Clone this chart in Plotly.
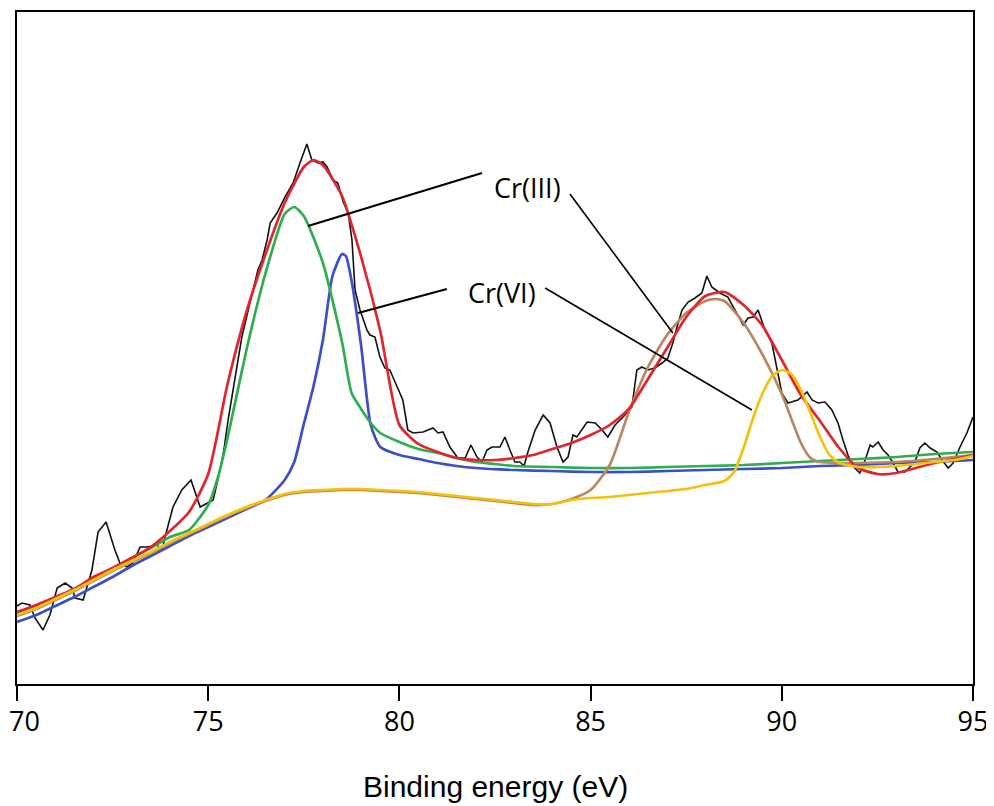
import plotly.graph_objects as go

# ---------------- data (binding energy in eV, intensity in arbitrary units) ----------------
raw_energy = [70.00, 70.13, 70.34, 70.47, 70.68, 70.86, 71.05, 71.26, 71.44, 71.52, 71.73, 71.83,
              71.96, 72.12, 72.33, 72.56, 72.69, 72.88, 73.03, 73.22, 73.40, 73.66, 73.79, 73.92,
              74.08, 74.31, 74.55, 74.79, 75.05, 75.13, 75.31, 75.41, 75.52, 75.78, 75.88, 76.09,
              76.30, 76.41, 76.54, 76.62, 76.80, 77.01, 77.22, 77.40, 77.58, 77.71, 77.87, 78.00,
              78.11, 78.26, 78.39, 78.53, 78.66, 78.76, 78.84, 78.97, 79.15, 79.23, 79.36, 79.49,
              79.62, 79.75, 79.94, 80.09, 80.22, 80.36, 80.62, 80.88, 81.01, 81.14, 81.32, 81.53,
              81.72, 81.87, 82.03, 82.16, 82.29, 82.42, 82.63, 82.76, 82.89, 83.02, 83.15, 83.26,
              83.36, 83.55, 83.76, 83.94, 84.12, 84.28, 84.41, 84.54, 84.64, 84.91, 85.12, 85.30,
              85.45, 85.64, 85.77, 85.85, 86.08, 86.21, 86.34, 86.50, 86.68, 86.87, 87.02, 87.15,
              87.26, 87.39, 87.55, 87.73, 87.91, 88.04, 88.17, 88.38, 88.59, 88.83, 88.99, 89.12,
              89.25, 89.38, 89.56, 89.74, 89.87, 90.00, 90.16, 90.42, 90.66, 90.79, 90.95, 91.13,
              91.31, 91.47, 91.60, 91.73, 91.86, 92.04, 92.18, 92.31, 92.38, 92.52, 92.65, 92.78,
              92.91, 93.04, 93.22, 93.35, 93.48, 93.61, 93.74, 93.88, 94.06, 94.19, 94.35, 94.48,
              94.66, 94.84, 95.00]
raw_counts = [78, 81, 79, 66, 54, 69, 96, 101, 96, 86, 84, 97,
              114, 152, 162, 134, 121, 117, 121, 137, 137, 139, 134, 154,
              177, 194, 204, 177, 182, 184, 214, 234, 264, 327, 347, 381,
              414, 424, 444, 461, 471, 487, 501, 521, 540, 524, 521, 522,
              517, 504, 501, 482, 471, 444, 394, 374, 354, 349, 347, 327,
              316, 314, 297, 284, 254, 251, 252, 256, 251, 252, 237, 226,
              226, 239, 227, 222, 234, 237, 237, 247, 234, 222, 222, 218,
              232, 254, 269, 261, 237, 222, 227, 249, 247, 262, 261, 254,
              247, 259, 264, 267, 277, 314, 317, 314, 316, 321, 326, 341,
              357, 374, 382, 386, 391, 408, 397, 391, 387, 371, 359, 366,
              367, 374, 354, 341, 314, 291, 281, 284, 292, 284, 281, 282,
              274, 261, 244, 229, 218, 211, 224, 239, 237, 242, 234, 229,
              221, 212, 212, 217, 222, 236, 241, 236, 232, 224, 216, 221,
              237, 251, 267]

# fitted envelope
env_energy = [70.0, 70.5, 71.0, 71.5, 72.0, 72.5, 73.0, 73.5, 74.0, 74.5, 75.0, 75.5, 76.0, 76.5,
              77.0, 77.5, 77.75, 78.0, 78.5, 79.0, 79.5, 80.0, 80.5, 81.0, 81.5, 82.0, 82.5,
              83.0, 83.5, 84.0, 84.5, 85.0, 85.5, 86.0, 86.5, 87.0, 87.5, 88.0, 88.5, 89.0,
              89.5, 90.0, 90.5, 91.0, 91.5, 92.0, 92.5, 93.0, 93.5, 94.0, 94.5, 95.0]
env_counts = [72, 79, 87, 95, 107, 116, 126, 137, 153, 172, 210, 299, 372, 430,
              481, 517, 524, 519, 488, 427, 353, 259, 240, 232, 226, 224, 224,
              226, 229, 235, 241, 249, 259, 275, 305, 336, 367, 388, 392, 379,
              358, 324, 289, 263, 236, 216, 210, 211, 216, 221, 225, 229]

# Cr(III) 2p3/2 component (green)
cr3a_energy = [70.0, 71.0, 72.0, 73.0, 73.5, 74.0, 74.5, 75.0, 75.25, 75.5, 76.0, 76.5, 77.0,
               77.25, 77.5, 78.0, 78.5, 78.75, 79.0, 79.25, 79.5, 80.0, 80.5, 81.0, 81.5, 82.0,
               82.5, 83.0, 84.0, 85.0, 86.0, 87.0, 88.0, 89.0, 90.0, 91.0, 92.0, 93.0, 94.0, 95.0]
cr3a_counts = [70, 86, 105, 126, 136, 147, 154, 179, 206, 245, 334, 411, 470,
               477, 468, 421, 342, 291, 275, 261, 251, 242, 235, 231, 226, 222,
               220, 218, 217, 216, 216, 217, 218, 219, 221, 223, 225, 227, 230, 232]

# Cr(VI) 2p3/2 component (blue)
cr6a_energy = [70.0, 70.5, 71.0, 71.5, 72.0, 72.5, 73.0, 73.5, 74.0, 74.5, 75.0, 75.5, 76.0, 76.5,
               77.0, 77.25, 77.5, 77.75, 78.0, 78.25, 78.5, 78.6, 78.75, 79.0, 79.25, 79.5,
               80.0, 80.5, 81.0, 81.5, 82.0, 83.0, 84.0, 85.0, 86.0, 87.0, 88.0, 89.0, 90.0,
               91.0, 92.0, 93.0, 94.0, 95.0]
cr6a_counts = [62, 69, 78, 87, 97, 107, 118, 128, 138, 148, 157, 166, 175, 184,
               204, 222, 260, 297, 344, 408, 430, 428, 403, 338, 259, 237,
               229, 225, 221, 218, 216, 214, 213, 212, 212, 213, 214, 215, 216,
               218, 219, 221, 222, 224]

# Cr(III) 2p1/2 component (brown)
cr3b_energy = [70.0, 70.5, 71.0, 71.5, 72.0, 72.5, 73.0, 73.5, 74.0, 74.5, 75.0, 75.5, 76.0, 76.5,
               77.0, 77.5, 78.0, 78.5, 79.0, 79.5, 80.0, 80.5, 81.0, 81.5, 82.0, 82.5, 83.0,
               83.5, 84.0, 84.5, 85.0, 85.5, 86.0, 86.5, 87.0, 87.5, 88.0, 88.25, 88.5, 89.0,
               89.5, 90.0, 90.5, 90.75, 91.0, 91.5, 92.0, 93.0, 94.0, 95.0]
cr3b_counts = [68, 75, 84, 93, 103, 113, 122, 131, 141, 150, 159, 168, 176, 183,
               189, 192, 193, 194, 194, 193, 192, 191, 189, 187, 185, 183, 181,
               179, 180, 185, 194, 219, 272, 317, 349, 371, 383, 385, 383, 361,
               329, 290, 241, 226, 222, 221, 221, 222, 225, 229]

# Cr(VI) 2p1/2 component (yellow)
cr6b_energy = [70.0, 70.5, 71.0, 71.5, 72.0, 72.5, 73.0, 73.5, 74.0, 74.5, 75.0, 75.5, 76.0, 76.5,
               77.0, 77.5, 78.0, 78.5, 79.0, 79.5, 80.0, 80.5, 81.0, 81.5, 82.0, 82.5, 83.0,
               83.5, 84.0, 84.5, 85.0, 85.5, 86.0, 86.5, 87.0, 87.5, 88.0, 88.5, 88.75, 89.0,
               89.25, 89.5, 89.75, 90.0, 90.25, 90.5, 90.75, 91.0, 91.25, 91.5, 92.0, 92.5,
               93.0, 93.5, 94.0, 94.5, 95.0]
cr6b_counts = [69, 76, 85, 94, 104, 114, 123, 132, 142, 151, 160, 169, 177, 184,
               190, 193, 194, 195, 195, 194, 193, 192, 190, 188, 186, 184, 182,
               180, 180, 184, 186, 187, 189, 191, 193, 195, 199, 203, 212, 236,
               266, 291, 308, 314, 310, 294, 271, 247, 229, 221, 217, 217,
               218, 220, 222, 224, 228]

# annotation labels and leader lines (energy, intensity)
label_text = ["Cr(III)", "Cr(VI)"]
label_energy = [83.34, 82.68]
label_counts = [497, 392]
leader_x0 = [77.61, 84.46, 78.92, 83.81]
leader_y0 = [458, 490, 371, 396]
leader_x1 = [82.16, 87.15, 81.24, 89.22]
leader_y1 = [511, 351, 395, 274]

x_ticks = [70, 75, 80, 85, 90, 95]
x_tick_text = ["", "75", "80", "85", "90", "95"]   # first label drawn left-aligned below
first_tick_label = "70"
x_title = "Binding energy (eV)"

# ---------------- figure ----------------
fig = go.Figure()

fig.add_trace(go.Scatter(x=raw_energy, y=raw_counts, mode="lines",
                         line=dict(color="#111111", width=1.6), name="Raw"))
fig.add_trace(go.Scatter(x=cr6a_energy, y=cr6a_counts, mode="lines",
                         line=dict(color="#3d4fc4", width=2.7, shape="spline", smoothing=0.6),
                         name="Cr(VI) 2p3/2"))
fig.add_trace(go.Scatter(x=cr3a_energy, y=cr3a_counts, mode="lines",
                         line=dict(color="#2fae4e", width=2.7, shape="spline", smoothing=0.6),
                         name="Cr(III) 2p3/2"))
fig.add_trace(go.Scatter(x=cr3b_energy, y=cr3b_counts, mode="lines",
                         line=dict(color="#b8875f", width=2.7, shape="spline", smoothing=0.6),
                         name="Cr(III) 2p1/2"))
fig.add_trace(go.Scatter(x=env_energy, y=env_counts, mode="lines",
                         line=dict(color="#e2252c", width=2.7, shape="spline", smoothing=0.6),
                         name="Envelope"))
fig.add_trace(go.Scatter(x=cr6b_energy, y=cr6b_counts, mode="lines",
                         line=dict(color="#f4c20d", width=2.7, shape="spline", smoothing=0.6),
                         name="Cr(VI) 2p1/2"))

for i in range(len(leader_x0)):
    fig.add_shape(type="line", xref="x", yref="y",
                  x0=leader_x0[i], y0=leader_y0[i], x1=leader_x1[i], y1=leader_y1[i],
                  line=dict(color="black", width=2.2 if i in (0, 2) else 1.6))

for t, xe, yc in zip(label_text, label_energy, label_counts):
    fig.add_annotation(x=xe, y=yc, xref="x", yref="y", text=t, showarrow=False,
                       font=dict(family="Open Sans", size=27, color="black"),
                       xanchor="center", yanchor="middle")

# first tick label, kept inside the page
fig.add_annotation(x=x_ticks[0], y=-0.054, xref="x", yref="paper", text=first_tick_label,
                   showarrow=False, xanchor="left", yanchor="middle", xshift=-10,
                   font=dict(family="Open Sans", size=27, color="black"))

fig.add_annotation(x=0.5, y=-0.152, xref="paper", yref="paper", text=x_title,
                   showarrow=False, xanchor="center", yanchor="middle",
                   font=dict(family="Liberation Sans, Arial", size=30, color="black"))

# the page body has a default 8px margin, so the figure is slightly smaller
fig.update_layout(
    width=986, height=798,
    margin=dict(l=9, r=21, t=4, b=122, autoexpand=False),
    paper_bgcolor="white", plot_bgcolor="white",
    showlegend=False,
)
fig.update_xaxes(range=[70, 95], tickvals=x_ticks, ticktext=x_tick_text,
                 ticks="outside", ticklen=15, tickwidth=2, tickcolor="black",
                 showline=True, linecolor="black", linewidth=2, mirror=True,
                 showgrid=False, zeroline=False, automargin=False, ticklabelstandoff=-2,
                 ticklabeloverflow="allow",
                 tickfont=dict(family="Open Sans", size=27, color="black"))
fig.update_yaxes(range=[0, 672], showticklabels=False, ticks="",
                 showline=True, linecolor="black", linewidth=2, mirror=True,
                 showgrid=False, zeroline=False, automargin=False)

fig.write_html("out.html")
